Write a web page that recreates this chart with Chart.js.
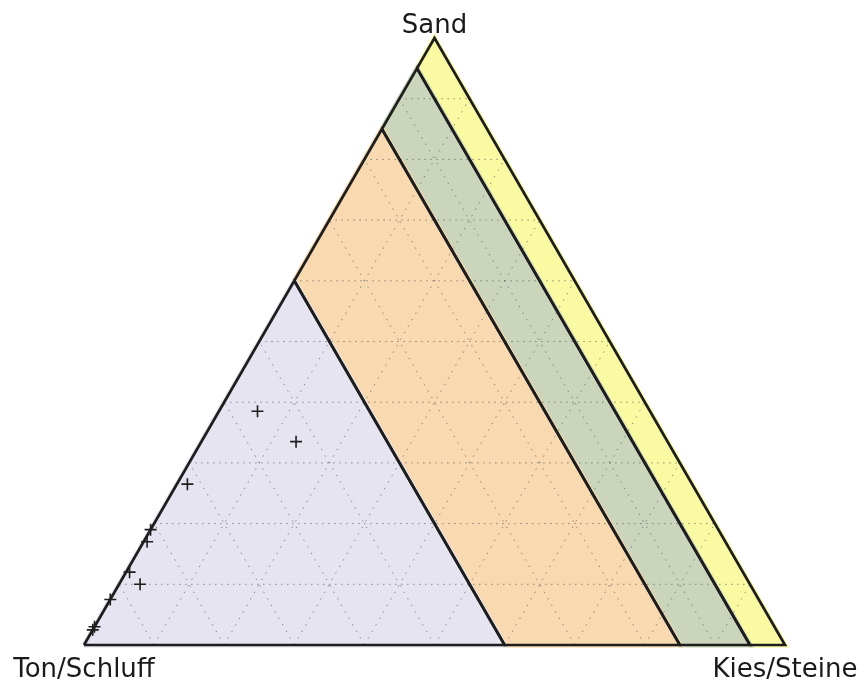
<!DOCTYPE html>
<html>
<head>
<meta charset="utf-8">
<title>Körnungsdreieck</title>
<script src="https://cdn.jsdelivr.net/npm/chart.js"></script>
<style>
    body { margin: 0; background: #fff; }
    #wrap { width: 862px; height: 682px; }
</style>
</head>
<body>
<div id="wrap"><canvas id="tri" width="862" height="682"></canvas></div>
<script>
// corner names: bottom-left, bottom-right, top
const cornerLabels = ['Ton/Schluff', 'Kies/Steine', 'Sand'];

// samples in percent (Ton/Schluff is the rest)
const sandPct = [38.5, 33.5, 26.5, 19, 17, 12, 10, 7.5, 3, 2.5];
const kiesPct = [5.5, 13.5, 1.5, 0, 0.5, 0.5, 3, 0, 0, 0];

// class limits by Ton/Schluff content in percent
const tonLimits = [100, 40, 15, 5, 0];
const zoneColors = ['#e6e4f0', '#f8d9b0', '#cad5bb', '#fafaa2'];

// dotted grid every 10 %
const gridSteps = [10, 20, 30, 40, 50, 60, 70, 80, 90];

const H = Math.sqrt(3) / 2;

// ternary (sand, kies) in percent -> cartesian
function toXY(sand, kies) {
    return { x: kies / 100 + sand / 200, y: sand / 100 * H };
}

function zonePolygon(hi, lo) {
    return [
        toXY(100 - hi, 0),
        toXY(0, 100 - hi),
        toXY(0, 100 - lo),
        toXY(100 - lo, 0),
        toXY(100 - hi, 0)
    ];
}

const datasets = [];

// filled zones
for (let i = 0; i < zoneColors.length; i++) {
    datasets.push({
        data: zonePolygon(tonLimits[i], tonLimits[i + 1]),
        showLine: true,
        fill: 'shape',
        backgroundColor: zoneColors[i],
        borderColor: zoneColors[i],
        borderWidth: 5,
        pointRadius: 0,
        clip: false,
        order: 5
    });
}

// grid lines: constant sand, constant kies, constant ton
gridSteps.forEach(function (v) {
    const lines = [
        [toXY(v, 0), toXY(v, 100 - v)],
        [toXY(0, v), toXY(100 - v, v)],
        [toXY(0, 100 - v), toXY(100 - v, 0)]
    ];
    lines.forEach(function (pts, k) {
        datasets.push({
            data: pts,
            showLine: true,
            fill: false,
            borderColor: 'rgba(95,95,95,0.7)',
            borderWidth: 1,
            borderDash: k === 0 ? [1.5, 4.5] : [1.5, 6],
            pointRadius: 0,
            order: 4
        });
    });
});

// zone outlines
for (let i = 0; i < zoneColors.length; i++) {
    datasets.push({
        data: zonePolygon(tonLimits[i], tonLimits[i + 1]),
        showLine: true,
        fill: false,
        borderColor: '#1e1e1e',
        borderWidth: 2.7,
        pointRadius: 0,
        clip: false,
        order: 3
    });
}

// samples
datasets.push({
    data: sandPct.map(function (s, i) { return toXY(s, kiesPct[i]); }),
    showLine: false,
    pointStyle: 'cross',
    pointRadius: 6,
    pointBorderWidth: 1.6,
    pointBorderColor: '#1e1e1e',
    clip: false,
    order: 1
});

const cornerText = {
    id: 'cornerText',
    afterDraw(chart) {
        const ctx = chart.ctx;
        const xs = chart.scales.x, ys = chart.scales.y;
        const corners = [toXY(0, 0), toXY(0, 100), toXY(100, 0)];
        ctx.save();
        ctx.font = '26px "DejaVu Sans"';
        ctx.fillStyle = '#1a1a1a';
        ctx.textAlign = 'center';
        ctx.textBaseline = 'alphabetic';
        corners.forEach(function (c, i) {
            const px = xs.getPixelForValue(c.x);
            const py = ys.getPixelForValue(c.y);
            ctx.fillText(cornerLabels[i], px, i === 2 ? py - 5 : py + 32);
        });
        ctx.restore();
    }
};

new Chart(document.getElementById('tri'), {
    type: 'scatter',
    data: { datasets: datasets },
    options: {
        responsive: false,
        animation: false,
        layout: { padding: { left: 84, right: 77, top: 38, bottom: 37 } },
        scales: {
            x: { type: 'linear', min: 0, max: 1, display: false },
            y: { type: 'linear', min: 0, max: H, display: false }
        },
        plugins: {
            legend: { display: false },
            tooltip: { enabled: false }
        }
    },
    plugins: [cornerText]
});
</script>
</body>
</html>
